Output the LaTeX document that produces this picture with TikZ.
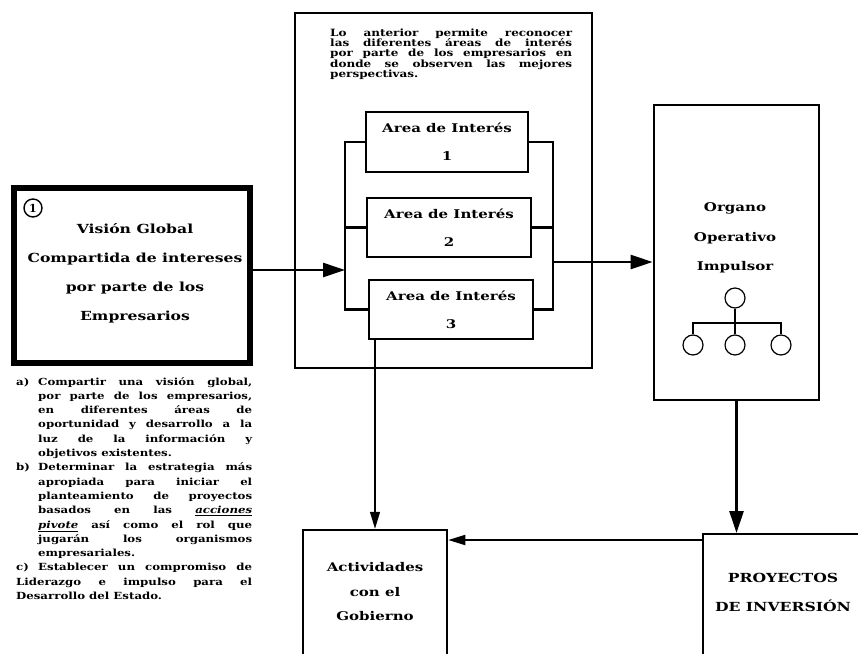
\documentclass[tikz,border=0pt]{standalone}
\usepackage{fontspec}
\setmainfont{DejaVu Serif}
\newfontfamily\widefont[FakeStretch=1.25]{DejaVu Serif}
\newfontfamily\notefont[FakeStretch=1.2]{DejaVu Serif}
\usetikzlibrary{arrows.meta,positioning,calc}
\newcommand\notelabel[1]{\hangindent=22pt\hangafter=1\noindent\makebox[22pt][l]{#1}}
\tikzset{
  panel/.style={rectangle,draw,line width=1.3pt,inner sep=0pt},
  bigbox/.style={rectangle,draw,line width=2.6pt,inner sep=0pt},
  areabox/.style={rectangle,draw,line width=2.3pt,inner sep=0pt,align=center,font=\widefont\bfseries\fontsize{12}{28}\selectfont},
  boxtext/.style={align=center,inner sep=0pt,font=\widefont\bfseries\fontsize{12.5}{29}\selectfont},
  note/.style={align=justify,inner sep=0pt,anchor=north west,font=\notefont\bfseries\fontsize{9.8}{14.3}\selectfont},
  bus/.style={line width=2.6pt},
  arrow/.style={-{Triangle[length=22pt,width=14pt]},line width=2.6pt},
  midarrow/.style={-{Triangle[length=17pt,width=10pt]},line width=1.8pt},
  thinarrow/.style={-{Triangle[length=17pt,width=10pt]},line width=1.3pt},
  orgdot/.style={circle,draw,line width=1.2pt,minimum size=20pt,inner sep=0pt},
  orgline/.style={line width=1.2pt}
}
\begin{document}
\begin{tikzpicture}[x=1pt,y=-1pt]
  \useasboundingbox (0,0) rectangle (858,653);
  % vision box and its notes
  \node[bigbox,line width=6pt,minimum width=236pt,minimum height=175pt] (vision) at (132,275.5) {};
  \node[circle,draw,line width=1.4pt,minimum size=18pt,inner sep=0pt,font=\bfseries\fontsize{11}{11}\selectfont] (uno) at (33,208) {1};
  \node[boxtext] (visiontxt) at (135,273) {Visión Global\\Compartida de intereses\\por parte de los\\Empresarios};
  \node[note,text width=236pt] (notes) at (16,377) {%
    \notelabel{a)}Compartir una visión global,\linebreak por parte de los empresarios,\linebreak en diferentes áreas de\linebreak oportunidad y desarrollo a la\linebreak luz de la información y\linebreak objetivos existentes.\par
    \notelabel{b)}Determinar la estrategia más\linebreak apropiada para iniciar el\linebreak planteamiento de proyectos\linebreak basados en las \underline{\textit{acciones}}\linebreak \underline{\textit{pivote}} así como el rol que\linebreak jugarán los organismos\linebreak empresariales.\par
    \notelabel{c)}Establecer un compromiso de\linebreak Liderazgo e impulso para el\linebreak Desarrollo del Estado.};

  % areas of interest
  \node[panel,minimum width=297pt,minimum height=355pt] (marco) at (443.5,190.5) {};
  \node[note,text width=242pt,font=\notefont\bfseries\fontsize{10}{10.3}\selectfont] (intro) at (330,28.5) {Lo anterior permite reconocer\linebreak las diferentes áreas de interés\linebreak por parte de los empresarios en\linebreak donde se observen las mejores\linebreak perspectivas.};
  \node[areabox,minimum width=162pt,minimum height=60pt] (area1) at (447,142) {Area de Interés\\1};
  \node[areabox,minimum width=164pt,minimum height=59pt] (area2) at (449,227.5) {Area de Interés\\2};
  \node[areabox,minimum width=164pt,minimum height=59pt] (area3) at (451,309.5) {Area de Interés\\3};
  \coordinate (lbus) at (345,270);
  \coordinate (rbus) at (553,262);
  \draw[bus] (area1.west) -| (lbus);
  \draw[bus] (area3.west) -| (lbus);
  \draw[bus] (area2.west) -- (area2.west -| lbus);
  \draw[bus] (area1.east) -| (rbus);
  \draw[bus] (area3.east) -| (rbus);
  \draw[bus] (area2.east) -- (area2.east -| rbus);

  % operating body
  \node[bigbox,line width=2.8pt,minimum width=165pt,minimum height=295pt] (organo) at (736.5,252.5) {};
  \node[boxtext,font=\widefont\bfseries\fontsize{12}{29.5}\selectfont] (organotxt) at (735,238) {Organo\\Operativo\\Impulsor};
  \node[orgdot] (jefe) at (735,298) {};
  \node[orgdot] (sub1) at (693,345) {};
  \node[orgdot] (sub2) at (735,345) {};
  \node[orgdot] (sub3) at (781,345) {};
  \coordinate (barra) at (735,323);
  \draw[orgline] (jefe.south) -- (barra);
  \draw[orgline] (sub1.north) |- (barra) -| (sub3.north);
  \draw[orgline] (sub2.north) -- (barra);

  % bottom row
  \node[bigbox,line width=2.5pt,minimum width=144pt,minimum height=150pt] (activ) at (375,605) {};
  \node[boxtext,font=\widefont\bfseries\fontsize{12}{24.5}\selectfont] (activtxt) at (375,592) {Actividades\\con el\\Gobierno};
  \node[bigbox,line width=2pt,minimum width=180pt,minimum height=150pt] (proy) at (793,609) {};
  \node[boxtext] (proytxt) at (783,592.5) {PROYECTOS\\DE INVERSIÓN};

  % connectors
  \draw[arrow] (vision.east |- lbus) -- (lbus);
  \draw[arrow] (rbus) -- (rbus -| organo.west);
  \draw[thinarrow] (area3.south -| activ.north) -- (activ.north);
  \draw[arrow] (organo.south) -- (organo.south |- proy.north);
  \draw[midarrow] ([yshift=-7pt]proy.north west) -- ([yshift=-7pt]proy.north west -| activ.east);
\end{tikzpicture}
\end{document}
